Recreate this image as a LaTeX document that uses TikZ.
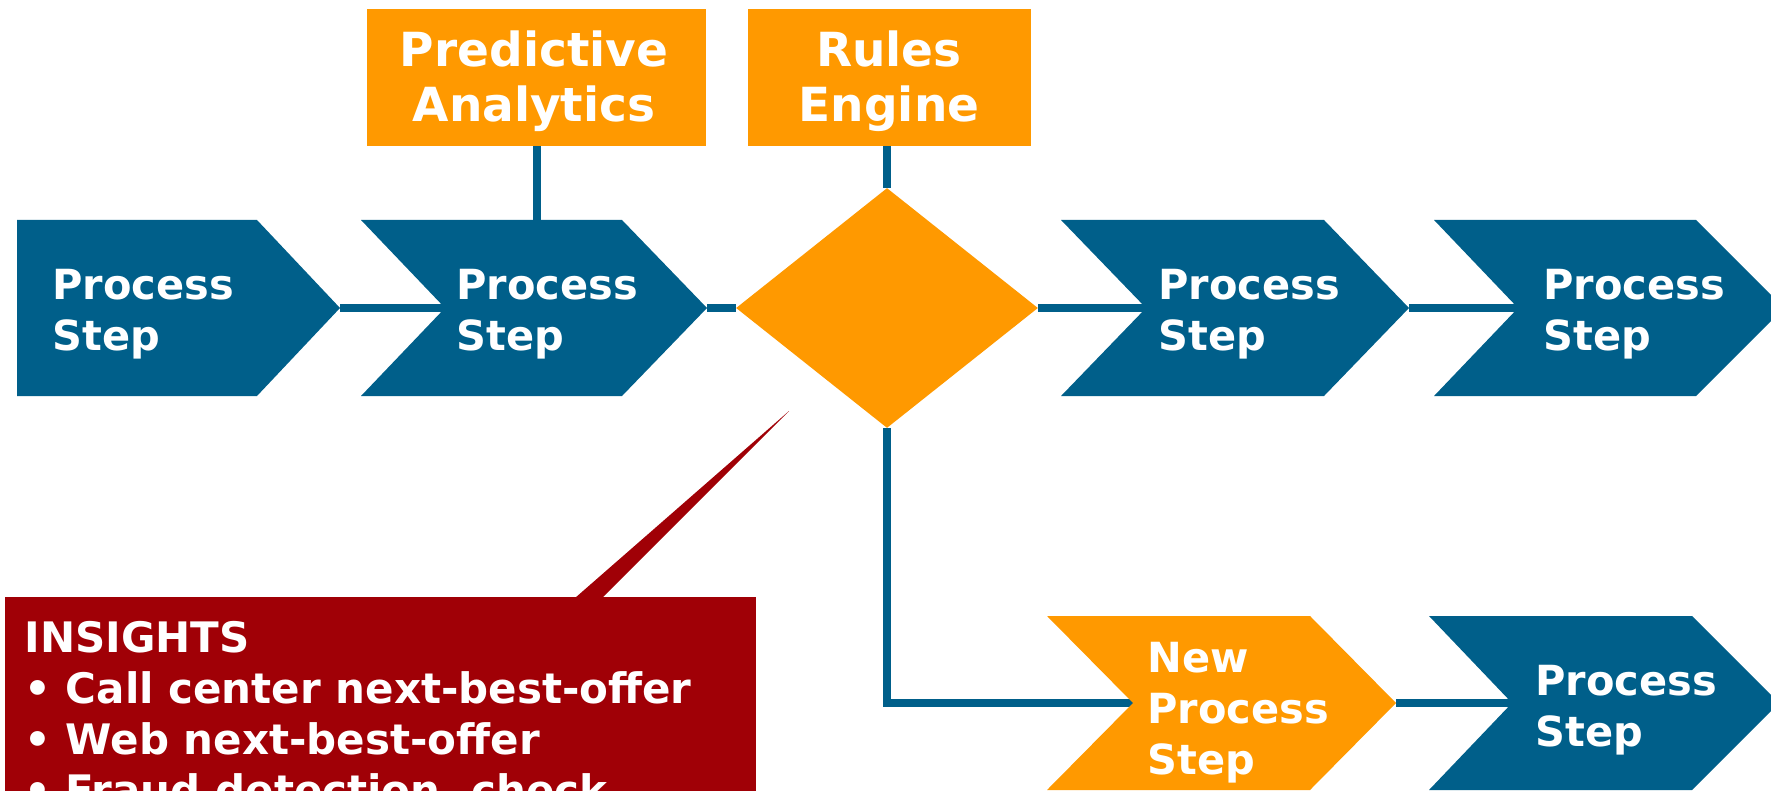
\documentclass[tikz,border=0pt]{standalone}
\usepackage{fontspec}
\setmainfont{DejaVu Sans}
\usetikzlibrary{shapes.geometric,backgrounds}
\definecolor{stepblue}{RGB}{0,95,138}
\definecolor{steporange}{RGB}{255,153,0}
\definecolor{insred}{RGB}{160,0,6}
\begin{document}
\begin{tikzpicture}[x=0.5pt,y=-0.5pt,
  link/.style={draw=stepblue,line width=4pt},
  bluestep/.style={fill=stepblue},
  orangestep/.style={fill=steporange},
  steptext/.style={text=white,font=\bfseries\fontsize{20.75}{25.5}\selectfont,align=left,inner sep=0pt,anchor=west},
  boxtext/.style={text=white,font=\bfseries\fontsize{23.5}{27.5}\selectfont,align=center,inner sep=0pt},
  obox/.style={fill=steporange,inner sep=0pt,minimum height=68.5pt},
  decision/.style={diamond,fill=steporange,inner sep=0pt,minimum width=151pt,minimum height=120pt},
  insbox/.style={fill=insred,inner sep=0pt,minimum width=375.5pt,minimum height=110pt},
  instext/.style={text=white,font=\bfseries\fontsize{21}{25.5}\selectfont,align=left,inner sep=0pt,anchor=north west}
]
\useasboundingbox (0,0) rectangle (1771,791);

% coordinates of chevrons
\coordinate (c1tip) at (340,308);
\coordinate (c2notch) at (445,308);
\coordinate (c2tip) at (707,308);
\coordinate (c3notch) at (1146,308);
\coordinate (c3tip) at (1409,308);
\coordinate (c4notch) at (1518,308);
\coordinate (n1notch) at (1133,703);
\coordinate (n1tip) at (1396,703);
\coordinate (n2notch) at (1512,703);
\coordinate (wedgeL) at (575,598);
\coordinate (wedgeR) at (602,598);
\coordinate (wedgetip) at (789,411);

% top boxes
\node[obox,minimum width=169.5pt] (pa) at (536.5,77.5) {};
\node[boxtext] (patext) at (534,81.5) {Predictive\\Analytics};
\coordinate (c2top) at (536.5,224);
\node[obox,minimum width=141.5pt] (re) at (889.5,77.5) {};
\node[boxtext] (retext) at (889,81.5) {Rules\\Engine};

% chevrons, top row
\fill[bluestep] (17,220) -- (257,220) -- (c1tip) -- (257,396) -- (17,396) -- cycle;
\node[steptext] (s1) at (52,314) {Process\\Step};
\fill[bluestep] (361,220) -- (622,220) -- (c2tip) -- (622,396) -- (361,396) -- (c2notch) -- cycle;
\node[steptext] (s2) at (456,314) {Process\\Step};
\node[decision] (dia) at (887,308) {};
\fill[bluestep] (1061,220) -- (1324,220) -- (c3tip) -- (1324,396) -- (1061,396) -- (c3notch) -- cycle;
\node[steptext] (s3) at (1158,314) {Process\\Step};
\fill[bluestep] (1434,220) -- (1696,220) -- (1784,308) -- (1696,396) -- (1434,396) -- (c4notch) -- cycle;
\node[steptext] (s4) at (1543,314) {Process\\Step};

% bottom row
\fill[orangestep] (1047,616) -- (1310,616) -- (n1tip) -- (1310,790) -- (1047,790) -- (n1notch) -- cycle;
\node[steptext] (n1) at (1147,713) {New\\Process\\Step};
\fill[bluestep] (1429,616) -- (1692,616) -- (1779,703) -- (1692,790) -- (1429,790) -- (n2notch) -- cycle;
\node[steptext] (n2) at (1535,710) {Process\\Step};

% insights callout
\node[insbox] (ins) at (380.5,707) {};
\fill[insred] (wedgeL) -- (wedgetip) -- (wedgeR) -- cycle;
\node[instext] (instxt) at (24,621) {INSIGHTS\\• Call center next-best-offer\\• Web next-best-offer\\• Fraud detection, check};

% connectors
\begin{pgfonlayer}{background}
\draw[link] (c1tip) -- (c2notch);
\draw[link] (c2tip) -- (dia.west);
\draw[link] (dia.east) -- (c3notch);
\draw[link] (c3tip) -- (c4notch);
\draw[link] (pa.south) -- (c2top);
\draw[link] (re.south -| dia.north) -- (dia.north);
\draw[link] (dia.south) |- (n1notch);
\draw[link] (n1tip) -- (n2notch);
\end{pgfonlayer}
\end{tikzpicture}
\end{document}
